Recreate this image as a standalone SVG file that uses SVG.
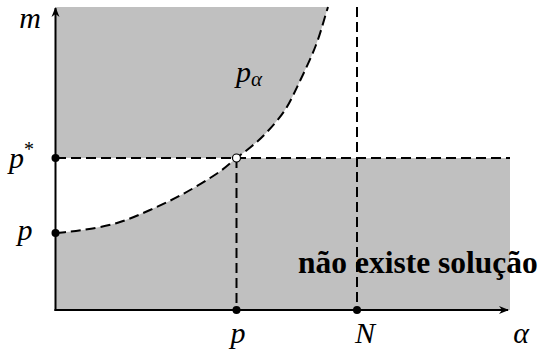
<svg xmlns="http://www.w3.org/2000/svg" width="540" height="356" viewBox="0 0 540 356">
<style>
.region{fill:#c0c0c0;stroke:none}
.dash{fill:none;stroke:#000;stroke-width:2;stroke-dasharray:10,5}
.axis{fill:none;stroke:#000;stroke-width:2}
.dot{fill:#000}
text{font-family:"Liberation Serif","Times New Roman","DejaVu Serif",serif;fill:#000}
.math{font-style:italic;font-size:30px}
.bold{font-weight:bold;font-size:31.5px}
</style>
<defs>
<marker id="arr" viewBox="0 0 10 10" refX="9" refY="5" markerWidth="10" markerHeight="10" markerUnits="userSpaceOnUse" orient="auto">
<path d="M0,1 L10,5 L0,9 L3,5 Z" fill="#000"/>
</marker>
</defs>
<g id="regions">
<path class="region" d="M56,7 L328,7 C324,19.67 320.83,32.33 316,45 C311.17,57.67 304.17,72.17 299,83 C293.83,93.83 290.33,101.83 285,110 C279.67,118.17 272.5,126 267,132 C261.5,138 257.08,141.67 252,146 C246.92,150.33 242.33,153.42 236.5,158 L56,158 Z"/>
<path class="region" d="M56,233 C65,232 72.83,231.67 83,230 C93.17,228.33 105.83,226.33 117,223 C128.17,219.67 139,214.83 150,210 C161,205.17 171.83,200.08 183,194 C194.17,187.92 208.08,179.5 217,173.5 C225.92,167.5 230.67,162.58 236.5,158 L510,158 L510,310 L56,310 Z"/>
</g>
<g id="connectors">
<path class="dash" d="M56,233 C65,232 72.83,231.67 83,230 C93.17,228.33 105.83,226.33 117,223 C128.17,219.67 139,214.83 150,210 C161,205.17 171.83,200.08 183,194 C194.17,187.92 208.08,179.5 217,173.5 C225.92,167.5 230.67,162.58 236.5,158 C242.33,153.42 246.92,150.33 252,146 C257.08,141.67 261.5,138 267,132 C272.5,126 279.67,118.17 285,110 C290.33,101.83 293.83,93.83 299,83 C304.17,72.17 311.17,57.67 316,45 C320.83,32.33 324,19.67 328,7"/>
<line class="dash" x1="56" y1="158" x2="510" y2="158"/>
<line class="dash" x1="236.5" y1="158" x2="236.5" y2="310"/>
<line class="dash" x1="357" y1="7" x2="357" y2="310"/>
<line class="axis" x1="55.5" y1="311" x2="55.5" y2="8" marker-end="url(#arr)"/>
<line class="axis" x1="54.5" y1="310" x2="508" y2="310" marker-end="url(#arr)"/>
</g>
<g id="points">
<circle class="dot" cx="55.5" cy="158" r="4"/>
<circle class="dot" cx="55.5" cy="233" r="4"/>
<circle class="dot" cx="236.5" cy="310" r="4"/>
<circle class="dot" cx="357" cy="310" r="4"/>
<circle cx="236.5" cy="158" r="4" fill="#fff" stroke="#000" stroke-width="1.2"/>
</g>
<g id="labels">
<text class="math" x="30" y="28" text-anchor="middle">m</text>
<text class="math" x="9" y="168">p<tspan font-size="20" dy="-12" font-style="normal">*</tspan></text>
<text class="math" x="25" y="240" text-anchor="middle">p</text>
<text class="math" x="238" y="343" text-anchor="middle">p</text>
<text class="math" x="365" y="343" text-anchor="middle">N</text>
<text class="math" x="521" y="343" text-anchor="middle">α</text>
<text class="math" x="236" y="82">p<tspan font-size="21" dy="4">α</tspan></text>
<text class="bold" x="298" y="273">não existe solução</text>
</g>
</svg>
